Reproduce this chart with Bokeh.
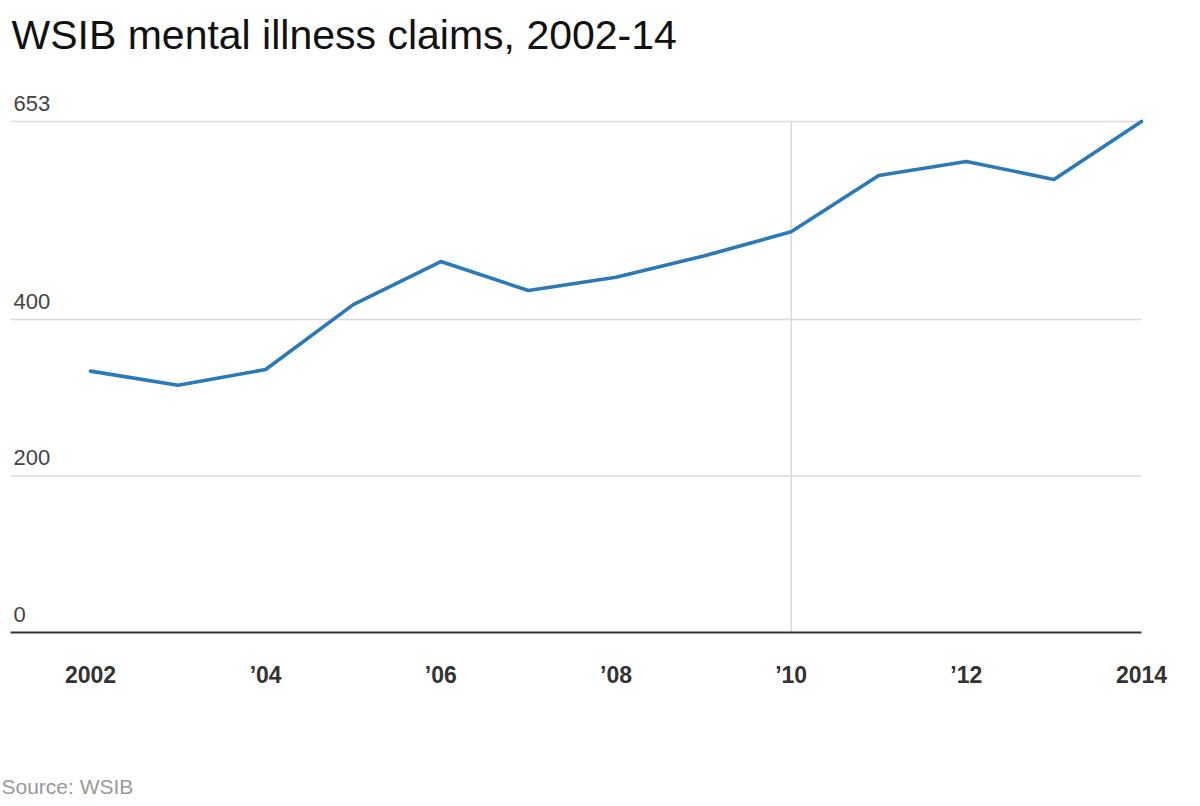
from bokeh.plotting import figure
from bokeh.models import Range1d, Label
from bokeh.core.properties import value
from bokeh.embed import file_html
from bokeh.resources import INLINE

# ---- data ----
years = [2002, 2003, 2004, 2005, 2006, 2007, 2008, 2009, 2010, 2011, 2012, 2013, 2014]
claims = [334, 316, 336, 419, 474, 437, 454, 481, 512, 584, 602, 579, 653]
x_tick_values = [2002, 2004, 2006, 2008, 2010, 2012, 2014]
x_tick_labels = ["2002", "\u201904", "\u201906", "\u201908", "\u201910", "\u201912", "2014"]
y_tick_values = [0, 200, 400, 653]
y_tick_labels = ["0", "200", "400", "653"]
highlight_year = 2010
title_text = "WSIB mental illness claims, 2002-14"
source_text = "Source: WSIB"

# ---- layout (pixels) ----
FONT = "Liberation Sans"
W, H = 1192, 800
grid_left_px = 10
first_point_px = 90
last_point_px = 1141
top_value_px = 121
zero_px = 632

y_max = max(y_tick_values)
px_per_year = (last_point_px - first_point_px) / (years[-1] - years[0])
px_per_unit = (zero_px - top_value_px) / y_max
x_start = years[0] - first_point_px / px_per_year
x_end = years[0] + (W - first_point_px) / px_per_year
y_start = -(H - zero_px) / px_per_unit
y_end = zero_px / px_per_unit
grid_left = years[0] - (first_point_px - grid_left_px) / px_per_year
grid_right = years[-1]

p = figure(width=W, height=H, output_backend="svg", toolbar_location=None,
           x_range=Range1d(x_start, x_end), y_range=Range1d(y_start, y_end),
           min_border=0)
p.outline_line_color = None
p.background_fill_color = "white"
p.border_fill_color = "white"
p.grid.visible = False
p.axis.visible = False

# horizontal gridlines (light) and zero baseline (dark)
light_ticks = [v for v in y_tick_values if v != 0]
p.segment(x0=[grid_left] * len(light_ticks), y0=light_ticks,
          x1=[grid_right] * len(light_ticks), y1=light_ticks,
          line_color="#dadada", line_width=1.5)

# highlight vertical line
p.segment(x0=[highlight_year], y0=[0], x1=[highlight_year], y1=[y_max],
          line_color="#dadada", line_width=1.5)

p.segment(x0=[grid_left], y0=[0], x1=[grid_right], y1=[0],
          line_color="#333333", line_width=2)

# series line
p.line(years, claims, line_color="#2a7ab8", line_width=3.6,
       line_join="round", line_cap="round")

# y labels above gridlines
p.text(x=[grid_left] * len(y_tick_values), y=y_tick_values, text=y_tick_labels,
       x_offset=3, y_offset=-18, text_baseline="alphabetic", text_align="left",
       text_font=value(FONT), text_font_size="22px", text_color="#444444")

# x tick labels below baseline
p.text(x=x_tick_values, y=[0] * len(x_tick_values), text=x_tick_labels,
       y_offset=42, text_baseline="alphabetic", text_align="center",
       text_font=value(FONT), text_font_size="23px", text_font_style="bold",
       text_color="#333333")

# title and source
p.add_layout(Label(x=11, y=H - 34, x_units="screen", y_units="screen",
                   text=title_text, text_font=FONT, text_font_size="41px",
                   text_color="#111111", text_baseline="alphabetic"))
p.add_layout(Label(x=1, y=H - 786, x_units="screen", y_units="screen",
                   text=source_text, text_font=FONT, text_font_size="21px",
                   text_color="#999999", text_baseline="alphabetic"))

open("out.html", "w").write(file_html(p, INLINE))
